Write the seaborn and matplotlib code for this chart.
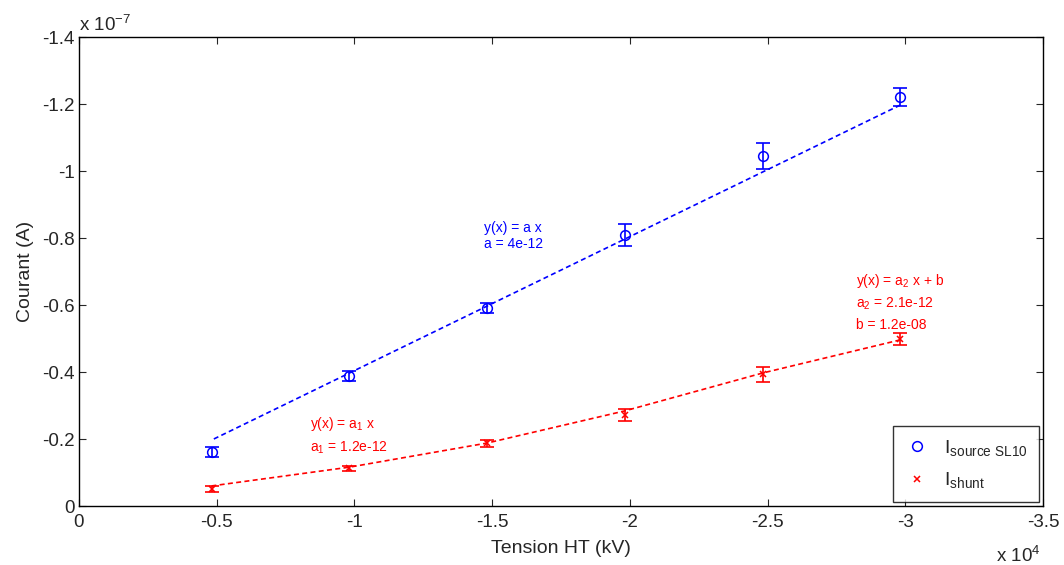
import pandas as pd
import seaborn as sns
import matplotlib.pyplot as plt

# tension (V) and currents (A)
tension = [-4820, -9820, -14820, -19820, -24820, -29820]
i_source = [-0.161e-7, -0.388e-7, -0.591e-7, -0.809e-7, -1.045e-7, -1.221e-7]
err_source = [0.016e-7, 0.015e-7, 0.015e-7, 0.034e-7, 0.039e-7, 0.027e-7]
i_shunt = [-0.051e-7, -0.112e-7, -0.187e-7, -0.272e-7, -0.393e-7, -0.498e-7]
err_shunt = [0.009e-7, 0.0075e-7, 0.01e-7, 0.018e-7, 0.022e-7, 0.018e-7]
# fitted curves
fit_source = [-0.197e-7, -0.397e-7, -0.597e-7, -0.797e-7, -0.997e-7, -1.197e-7]
fit_shunt = [-0.060e-7, -0.116e-7, -0.188e-7, -0.284e-7, -0.397e-7, -0.496e-7]

x_ticks = [0, -5000, -10000, -15000, -20000, -25000, -30000, -35000]
x_labels = ['0', '-0.5', '-1', '-1.5', '-2', '-2.5', '-3', '-3.5']
y_ticks = [0, -0.2e-7, -0.4e-7, -0.6e-7, -0.8e-7, -1.0e-7, -1.2e-7, -1.4e-7]
y_labels = ['0', '-0.2', '-0.4', '-0.6', '-0.8', '-1', '-1.2', '-1.4']


def main():
    sns.set_style('ticks')
    plt.rcParams['font.family'] = ['Liberation Sans', 'DejaVu Sans']
    plt.rcParams['mathtext.fontset'] = 'custom'
    plt.rcParams['mathtext.rm'] = 'Liberation Sans'
    plt.rcParams['mathtext.it'] = 'Liberation Sans'

    df = pd.DataFrame({'tension': tension, 'source': i_source,
                       'shunt': i_shunt, 'fit_source': fit_source,
                       'fit_shunt': fit_shunt})

    fig = plt.figure(figsize=(10.64, 5.65), dpi=100)
    ax = fig.add_axes([0.0742, 0.1044, 0.906, 0.830])

    sns.lineplot(data=df, x='tension', y='fit_source', color='blue',
                 linewidth=1.2, ax=ax, legend=False)
    sns.lineplot(data=df, x='tension', y='fit_shunt', color='red',
                 linewidth=1.2, ax=ax, legend=False)
    for line in ax.lines:
        line.set_dashes((3, 2))

    ax.errorbar(tension, i_source, yerr=err_source, fmt='none',
                ecolor='blue', capsize=5, elinewidth=1.2, capthick=1.2)
    ax.errorbar(tension, i_shunt, yerr=err_shunt, fmt='none',
                ecolor='red', capsize=5, elinewidth=1.2, capthick=1.2)

    ax.plot(tension, i_source, linestyle='none', marker='o', markersize=7,
            markerfacecolor='none', markeredgecolor='blue', mew=1.1,
            label=r'I$_{\mathrm{source\ SL10}}$')
    ax.plot(tension, i_shunt, linestyle='none', marker='x', markersize=5,
            color='red', mew=1.1, label=r'I$_{\mathrm{shunt}}$')

    ax.set_xlim(0, -35000)
    ax.set_ylim(0, -1.4e-7)
    ax.set_xticks(x_ticks)
    ax.set_xticklabels(x_labels)
    ax.set_yticks(y_ticks)
    ax.set_yticklabels(y_labels)
    ax.tick_params(direction='in', top=True, right=True, labelsize=13.5,
                   length=5, width=0.8)
    ax.tick_params(axis='x', pad=6)
    ax.tick_params(axis='y', pad=3)
    for side in ax.spines.values():
        side.set_visible(True)
        side.set_linewidth(1.0)
        side.set_color('black')

    ax.set_xlabel('Tension HT (kV)', fontsize=14, labelpad=6)
    ax.set_ylabel('Courant (A)', fontsize=14, labelpad=6)

    ax.text(0.0, 1.005, r'x 10$^{-7}$', transform=ax.transAxes,
            fontsize=13.5, ha='left', va='bottom')
    ax.text(0.998, -0.085, r'x 10$^{4}$', transform=ax.transAxes,
            fontsize=13.5, ha='right', va='top')

    ax.text(-14700, -0.806e-7, 'y(x) = a x\na = 4e-12', color='blue',
            fontsize=10, linespacing=1.25, va='center')
    ax.text(-8400, -0.21e-7, 'y(x) = a$_1$ x\na$_1$ = 1.2e-12',
            color='red', fontsize=10, linespacing=1.5, va='center')
    ax.text(-28200, -0.609e-7,
            'y(x) = a$_2$ x + b\na$_2$ = 2.1e-12\nb = 1.2e-08',
            color='red', fontsize=10, linespacing=1.5, va='center')

    leg = ax.legend(loc='lower right', fontsize=14, frameon=True,
                    fancybox=False, edgecolor='black', handlelength=1.3,
                    borderaxespad=0.2, labelspacing=0.65, borderpad=0.6,
                    handletextpad=0.7)
    leg.get_frame().set_linewidth(1.0)

    fig.savefig('out.png', dpi=100)


if __name__ == '__main__':
    main()
